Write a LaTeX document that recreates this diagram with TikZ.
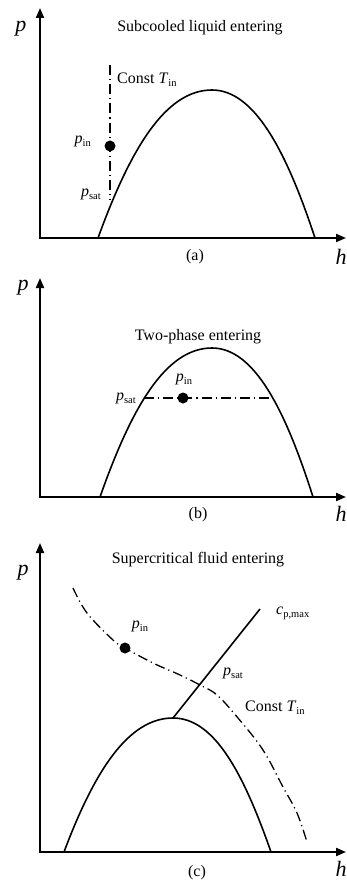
\documentclass[tikz,border=0pt]{standalone}
\usepackage{fontspec}
\setmainfont{Liberation Serif}
\usetikzlibrary{arrows.meta}
\newcommand\lbl[2]{\textit{#1}\raisebox{-0.45ex}{\fontsize{10.5}{12}\selectfont #2}}
\begin{document}
\begin{tikzpicture}[x=1pt,y=-1pt,
  axis/.style={line width=2pt,{Triangle[length=10pt,width=8pt]}-{Triangle[length=10pt,width=8pt]}},
  dome/.style={line width=1.6pt},
  ddot/.style={line width=1.3pt,dash pattern=on 10pt off 4pt on 1.2pt off 4pt},
  title/.style={font=\fontsize{16}{18}\selectfont,inner sep=0pt},
  lab/.style={font=\fontsize{16}{18}\selectfont,inner sep=0pt},
  axlab/.style={font=\fontsize{22}{24}\selectfont\itshape,inner sep=0pt},
  state/.style={circle,fill=black,inner sep=0pt,minimum size=11pt}]
\useasboundingbox (0,0) rectangle (346,882);

% ---------- panel (a)
\coordinate (aO) at (40,238);
\coordinate (aY) at (40,8);
\coordinate (aX) at (346,238);
\draw[axis] (aY) -- (aO) -- (aX);
\coordinate (aL) at (98,238);
\coordinate (aP) at (212,90);
\coordinate (aR) at (315,238);
\draw[dome] (aL) .. controls (130,150) and (165,90) .. (aP) .. controls (254,90) and (286,150) .. (aR);
\coordinate (aT1) at (110,65);
\coordinate (aT2) at (110,200);
\draw[ddot] (aT1) -- (aT2);
\node[state] (aIn) at (110,146) {};
\node[title] (aTitle) at (200,28) {Subcooled liquid entering};
\node[lab,anchor=east] (aPin) at (91,141) {\lbl{p}{in}};
\node[lab,anchor=east] (aPsat) at (101,194) {\lbl{p}{sat}};
\node[lab,anchor=west] (aConst) at (117,80) {Const \lbl{T}{in}};
\node[axlab] (aPl) at (21,29) {p};
\node[axlab] (aHl) at (341,257) {h};
\node[lab] (aCap) at (195,257) {(a)};

% ---------- panel (b)
\coordinate (bO) at (40,497);
\coordinate (bY) at (40,278);
\coordinate (bX) at (346,497);
\draw[axis] (bY) -- (bO) -- (bX);
\coordinate (bL) at (100,497);
\coordinate (bP) at (212,348);
\coordinate (bR) at (313,497);
\draw[dome] (bL) .. controls (131,409) and (165,348) .. (bP) .. controls (254,348) and (285,409) .. (bR);
\coordinate (bS1) at (144,398);
\coordinate (bS2) at (273,398);
\draw[ddot] (bS1) -- (bS2);
\node[state] (bIn) at (183,398) {};
\node[title] (bTitle) at (198,337) {Two-phase entering};
\node[lab] (bPin) at (184,379) {\lbl{p}{in}};
\node[lab,anchor=east] (bPsat) at (136,398) {\lbl{p}{sat}};
\node[axlab] (bPl) at (23,288) {p};
\node[axlab] (bHl) at (341,514) {h};
\node[lab] (bCap) at (198,515) {(b)};

% ---------- panel (c)
\coordinate (cO) at (40,852);
\coordinate (cY) at (40,543);
\coordinate (cX) at (346,852);
\draw[axis] (cY) -- (cO) -- (cX);
\coordinate (cL) at (64,852);
\coordinate (cP) at (173,718);
\coordinate (cR) at (271,852);
\draw[dome] (cL) .. controls (94,772) and (128,718) .. (cP) .. controls (214,718) and (243,772) .. (cR);
\coordinate (cCp) at (260,609);
\draw[dome] (cP) -- (cCp);
\draw[ddot] plot[smooth,tension=0.6] coordinates {(73,588) (87,613) (113,640) (125,648) (153,663) (180,675) (200,685) (217,695) (238,718) (263,750) (283,787) (297,813) (307,842)};
\node[state] (cIn) at (125,648) {};
\node[title] (cTitle) at (198,560) {Supercritical fluid entering};
\node[lab] (cPin) at (140,626) {\lbl{p}{in}};
\node[lab] (cPsat) at (233,673) {\lbl{p}{sat}};
\node[lab,anchor=west] (cConst) at (245,708) {Const \lbl{T}{in}};
\node[lab,anchor=west] (cCpl) at (276,613) {\lbl{c}{p,max}};
\node[axlab] (cPl) at (23,573) {p};
\node[axlab] (cHl) at (341,869) {h};
\node[lab] (cCap) at (197,873) {(c)};
\end{tikzpicture}
\end{document}
